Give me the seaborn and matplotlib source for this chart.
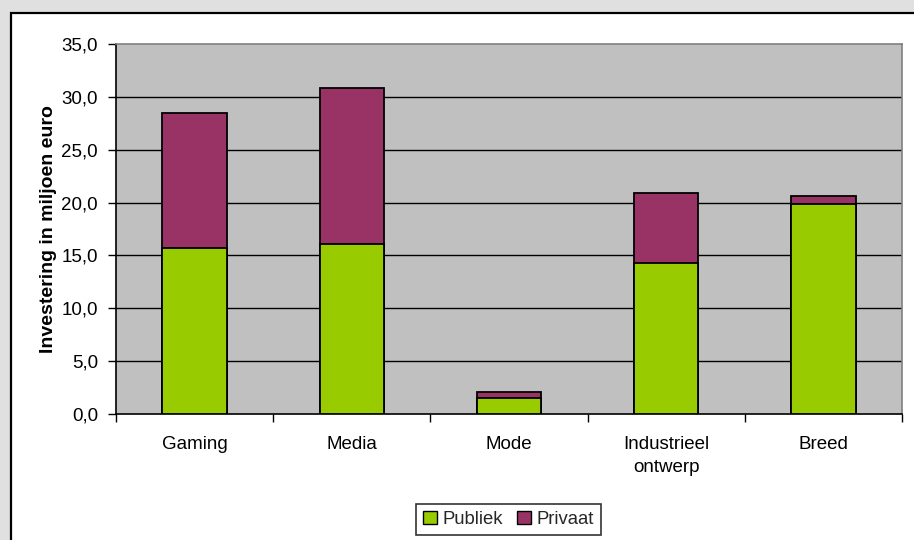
import matplotlib
matplotlib.use("Agg")
import matplotlib.pyplot as plt
from matplotlib.patches import Rectangle, Patch
from matplotlib.ticker import FuncFormatter, FixedLocator
import seaborn as sns
import pandas as pd

# Investment per creative sector (million euro)
categories = ["Gaming", "Media", "Mode", "Industrieel\nontwerp", "Breed"]
publiek = [15.7, 16.1, 1.5, 14.3, 19.9]
privaat = [12.8, 14.7, 0.6, 6.6, 0.7]
y_ticks = [0, 5, 10, 15, 20, 25, 30, 35]

series_names = ["Publiek", "Privaat"]
series_colors = ["#99cc00", "#993366"]

df = pd.DataFrame({"sector": categories, "publiek": publiek, "privaat": privaat})
df["totaal"] = df["publiek"] + df["privaat"]

sns.set_theme(style="white")
plt.rcParams["font.family"] = ["Liberation Sans", "DejaVu Sans"]

W, H = 914, 540
fig = plt.figure(figsize=(W / 100, H / 100), dpi=100, facecolor="#e0e0e0")

# white chart frame
frame = Rectangle((11 / W, -0.1), 1.2, (H - 13) / H + 0.1, transform=fig.transFigure,
                  facecolor="white", edgecolor="black", linewidth=1.6, zorder=-10)
fig.patches.append(frame)

left, right, top, bottom = 116, 902, 44, 414
ax = fig.add_axes([left / W, 1 - bottom / H, (right - left) / W, (bottom - top) / H])
ax.set_facecolor("#c0c0c0")

# stacked bars: total (privaat on top) drawn first, publiek over it
sns.barplot(data=df, x="sector", y="totaal", color=series_colors[1], saturation=1,
            width=0.41, edgecolor="black", linewidth=1.3, ax=ax, zorder=3)
sns.barplot(data=df, x="sector", y="publiek", color=series_colors[0], saturation=1,
            width=0.41, edgecolor="black", linewidth=1.3, ax=ax, zorder=4)

ax.set_xlim(-0.5, len(categories) - 0.5)
ax.set_ylim(0, 35)
ax.set_yticks(y_ticks)
ax.yaxis.set_major_formatter(FuncFormatter(lambda v, p: f"{v:.1f}".replace(".", ",")))
ax.tick_params(axis="y", which="major", length=6, width=1, color="black",
               direction="out", pad=7, labelsize=13.5, labelcolor="black", left=True)

# x ticks between categories, labels centred under each bar
ax.xaxis.set_major_locator(FixedLocator([i - 0.5 for i in range(len(categories) + 1)]))
ax.xaxis.set_minor_locator(FixedLocator(list(range(len(categories)))))
ax.set_xticklabels([""] * (len(categories) + 1))
ax.set_xticklabels(categories, minor=True, linespacing=1.45)
ax.tick_params(axis="x", which="major", length=6, width=1, color="black",
               direction="out", bottom=True)
ax.tick_params(axis="x", which="minor", length=0, pad=16, labelsize=13.5,
               labelcolor="black")

ax.set_xlabel("")
ax.set_ylabel("Investering in miljoen euro", fontsize=14, fontweight="bold",
              color="black", labelpad=3)

ax.set_axisbelow(True)
for yv in y_ticks[1:-1]:
    ax.axhline(yv, color="black", linewidth=1, zorder=1)

for side in ["left", "bottom"]:
    ax.spines[side].set_color("black")
    ax.spines[side].set_linewidth(1.2)
for side in ["top", "right"]:
    ax.spines[side].set_color("#808080")
    ax.spines[side].set_linewidth(1.2)
    ax.spines[side].set_visible(True)

handles = [Patch(facecolor=c, edgecolor="black", linewidth=1) for c in series_colors]
leg = fig.legend(handles, series_names, loc="center", ncol=2,
                 bbox_to_anchor=(508.5 / W, 1 - 519.5 / H),
                 frameon=True, fancybox=False, edgecolor="black", fontsize=13.3,
                 handlelength=0.75, handleheight=0.75, handletextpad=0.3,
                 columnspacing=0.8, borderpad=0.35, borderaxespad=0)
leg.get_frame().set_linewidth(1.2)

fig.savefig("out.png", dpi=100, facecolor=fig.get_facecolor())
